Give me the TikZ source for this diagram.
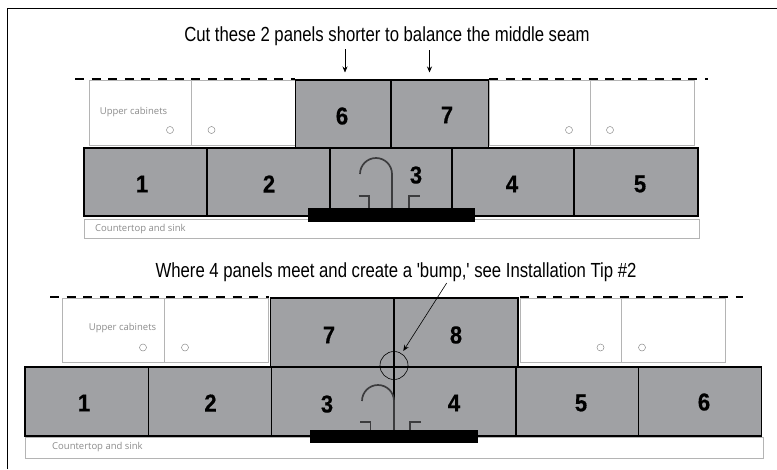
\documentclass[tikz,border=0pt]{standalone}
\usepackage{fontspec}
\setmainfont{Liberation Sans}[FakeStretch=0.82, Ligatures=TeXOff]
\newfontfamily\smallfont{Open Sans}
\newfontfamily\numfont{Liberation Sans Bold}[FakeStretch=0.9, FakeBold=0.4]
\usetikzlibrary{arrows.meta}
\definecolor{panelgray}{HTML}{A0A1A4}
\definecolor{cabgray}{HTML}{B4B4B4}
\definecolor{tapgray}{HTML}{3C3C3E}
\begin{document}
\begin{tikzpicture}[x=1pt, y=-1pt,
	panel/.style={rectangle, draw=black, fill=panelgray, line width=1.7pt, inner sep=0pt},
	cabinet/.style={rectangle, draw=cabgray, fill=white, line width=1pt, inner sep=0pt},
	counter/.style={rectangle, draw=cabgray, fill=white, line width=1pt, inner sep=0pt},
	sink/.style={rectangle, fill=black, inner sep=0pt},
	knob/.style={circle, draw=gray!90, line width=0.5pt, minimum size=7pt, inner sep=0pt},
	num/.style={font=\numfont\fontsize{24.5}{25}\selectfont, inner sep=0pt},
	note/.style={font=\fontsize{20.4}{21}\selectfont, inner sep=0pt},
	small/.style={font=\smallfont\fontsize{9.5}{10}\selectfont, text=gray!90, inner sep=0pt},
	edge/.style={dash pattern=on 9pt off 7.6pt, line width=1.5pt},
	tap/.style={draw=tapgray, line width=1.7pt},
	pointer/.style={-{Stealth[length=6pt,width=5pt]}, line width=0.6pt}]
	\useasboundingbox (0,0) rectangle (777,469);
	\coordinate (fa) at (7.5,469);
	\coordinate (fb) at (7.5,8.5);
	\coordinate (fc) at (777,8.5);
	\draw[line width=1.5pt] (fa) -- (fb) -- (fc);

	% top wall
	\node[note] (t1) at (387,36) {Cut these 2 panels shorter to balance the middle seam};
	\coordinate (p1) at (345,49);
	\coordinate (q1) at (345,72.5);
	\coordinate (p2) at (429.5,50);
	\coordinate (q2) at (429.5,72.5);
	\draw[pointer] (p1) -- (q1);
	\draw[pointer] (p2) -- (q2);

	\node[cabinet, minimum width=102, minimum height=65] (c1) at (140,112.5) {};
	\node[cabinet, minimum width=104, minimum height=65] (c2) at (243,112.5) {};
	\node[cabinet, minimum width=101, minimum height=65] (c3) at (539.5,112.5) {};
	\node[cabinet, minimum width=104, minimum height=65] (c4) at (642,112.5) {};
	\node[small] (u1) at (133.5,112.5) {Upper cabinets};
	\node[knob] (k1) at (170,130) {};
	\node[knob] (k2) at (211.5,130) {};
	\node[knob] (k3) at (569,130) {};
	\node[knob] (k4) at (610,130) {};

	\node[panel, minimum width=95.5, minimum height=68] (a6) at (343.25,114) {};
	\node[panel, minimum width=97.5, minimum height=68] (a7) at (439.75,114) {};
	\node[panel, minimum width=123, minimum height=68] (a1) at (145.5,182) {};
	\node[panel, minimum width=123, minimum height=68] (a2) at (268.5,182) {};
	\node[panel, minimum width=122, minimum height=68] (a3) at (391,182) {};
	\node[panel, minimum width=122, minimum height=68] (a4) at (513,182) {};
	\node[panel, minimum width=124, minimum height=68] (a5) at (636,182) {};
	\node[counter, minimum width=615, minimum height=19] (b1) at (391.5,228.5) {};
	\node[small, anchor=west] (b1t) at (95,229) {Countertop and sink};

	\coordinate (d1) at (75,79);
	\coordinate (d2) at (295,79);
	\coordinate (d3) at (489,79);
	\coordinate (d4) at (708,79);
	\draw[edge] (d1) -- (d2);
	\draw[edge] (d3) -- (d4);

	\coordinate (f1) at (360,174);
	\coordinate (f3) at (392,208);
	\draw[tap] (f1) arc (180:360:16) -- (f3);
	\coordinate (h1) at (358.5,196);
	\coordinate (h2) at (369,196);
	\coordinate (h3) at (369,208);
	\draw[tap] (h1) -- (h2) -- (h3);
	\coordinate (h4) at (419.5,196);
	\coordinate (h5) at (409,196);
	\coordinate (h6) at (409,208);
	\draw[tap] (h4) -- (h5) -- (h6);
	\node[sink, minimum width=167, minimum height=14] (s1) at (391.5,215) {};

	\node[num] (n1) at (142,184) {1};
	\node[num] (n2) at (269,184) {2};
	\node[num] (n3) at (416,175) {3};
	\node[num] (n4) at (512,184) {4};
	\node[num] (n5) at (640,184) {5};
	\node[num] (n6) at (342,116) {6};
	\node[num] (n7) at (447,115) {7};

	% bottom wall
	\node[note] (t2) at (396,272) {Where 4 panels meet and create a 'bump,' see Installation Tip \#2};

	\node[cabinet, minimum width=102, minimum height=64.5] (e1) at (113.25,330.5) {};
	\node[cabinet, minimum width=104, minimum height=64.5] (e2) at (216,330.5) {};
	\node[cabinet, minimum width=101.5, minimum height=64.5] (e3) at (570.75,330.5) {};
	\node[cabinet, minimum width=104, minimum height=64.5] (e4) at (673.5,330.5) {};
	\node[small] (u2) at (122.5,328) {Upper cabinets};
	\node[knob] (k5) at (143,347.5) {};
	\node[knob] (k6) at (185,347.5) {};
	\node[knob] (k7) at (600.5,347.5) {};
	\node[knob] (k8) at (642,347.5) {};

	\node[panel, minimum width=123.5, minimum height=69] (g7) at (332.25,332.5) {};
	\node[panel, minimum width=124, minimum height=69] (g8) at (456,332.5) {};
	\node[panel, minimum width=123.5, minimum height=69] (g1) at (86.75,401.5) {};
	\node[panel, minimum width=123, minimum height=69] (g2) at (210,401.5) {};
	\node[panel, minimum width=122.5, minimum height=69] (g3) at (332.75,401.5) {};
	\node[panel, minimum width=122, minimum height=69] (g4) at (455,401.5) {};
	\node[panel, minimum width=122.5, minimum height=69] (g5) at (577.25,401.5) {};
	\node[panel, minimum width=123, minimum height=69] (g6) at (700,401.5) {};
	\node[counter, minimum width=738, minimum height=21] (b2) at (394,448) {};
	\node[small, anchor=west] (b2t) at (52,447.5) {Countertop and sink};

	\coordinate (d5) at (50,297);
	\coordinate (d6) at (269,297);
	\coordinate (d7) at (520,297);
	\coordinate (d8) at (743,297);
	\draw[edge] (d5) -- (d6);
	\draw[edge] (d7) -- (d8);

	\coordinate (f4) at (362,401);
	\coordinate (f5) at (394,430);
	\draw[tap] (f4) arc (180:360:16) -- (f5);
	\coordinate (h7) at (360,422);
	\coordinate (h8) at (370.5,422);
	\coordinate (h9) at (370.5,430);
	\draw[tap] (h7) -- (h8) -- (h9);
	\coordinate (h10) at (421,422);
	\coordinate (h11) at (410,422);
	\coordinate (h12) at (410,430);
	\draw[tap] (h10) -- (h11) -- (h12);
	\node[sink, minimum width=167.5, minimum height=12.5] (s2) at (393.75,436.25) {};

	\node[circle, draw=black, line width=0.6pt, minimum size=28pt, inner sep=0pt] (bump) at (394,365.5) {};
	\coordinate (p3) at (446.7,283);
	\draw[pointer, shorten >=3pt] (p3) -- (bump);

	\node[num] (m1) at (84,403) {1};
	\node[num] (m2) at (210.5,403) {2};
	\node[num] (m3) at (327,404) {3};
	\node[num] (m4) at (454,403) {4};
	\node[num] (m5) at (581,403) {5};
	\node[num] (m6) at (704,402) {6};
	\node[num] (m7) at (329,335) {7};
	\node[num] (m8) at (456,335) {8};
\end{tikzpicture}
\end{document}
